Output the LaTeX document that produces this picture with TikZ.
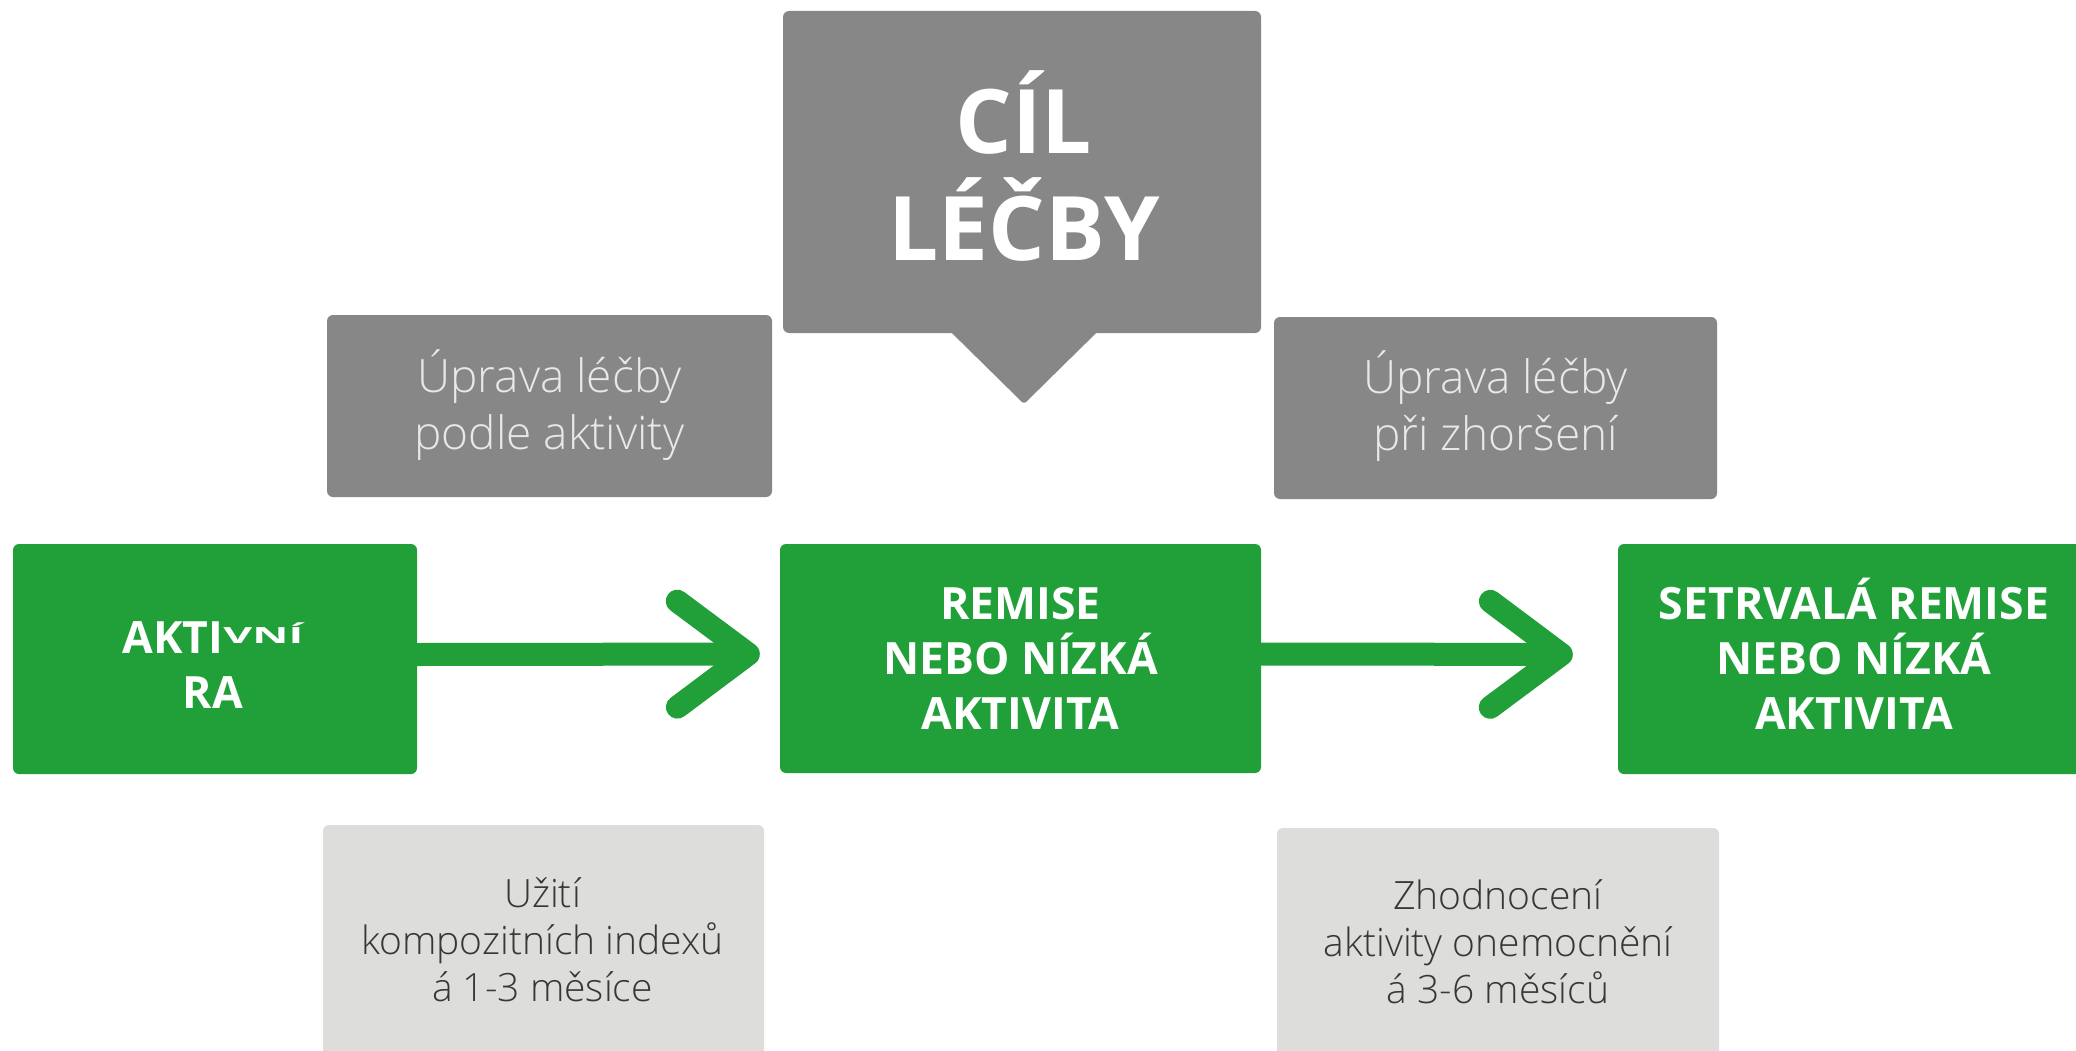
\documentclass[tikz,border=0pt]{standalone}
\usepackage{fontspec}
\setmainfont{Open Sans}
\newfontfamily\osl{Open Sans Light}
\usetikzlibrary{arrows.meta}
\definecolor{rgreen}{RGB}{33,160,57}
\definecolor{dgray}{RGB}{135,135,135}
\definecolor{lgray}{RGB}{221,221,220}
\definecolor{utext}{RGB}{232,232,232}
\definecolor{btext}{RGB}{55,55,55}
\newcommand\mytop{\rule{0pt}{1em}}
\newcommand\mybot{\rule[-0.3em]{0pt}{0.3em}}
\begin{document}
\begin{tikzpicture}[x=1pt,y=-1pt,
  box/.style={rectangle, rounded corners=6pt, inner sep=0pt, draw=none},
  greenbox/.style={box, fill=rgreen},
  darkbox/.style={box, fill=dgray},
  lightbox/.style={box, fill=lgray},
  gtext/.style={text=white, align=center, inner sep=0pt, font=\bfseries\fontsize{44.5}{55}\selectfont},
  goaltext/.style={text=white, align=center, inner sep=0pt, font=\bfseries\fontsize{89}{107}\selectfont},
  utxt/.style={text=utext, align=center, inner sep=0pt, font=\osl\fontsize{46}{57}\selectfont},
  btxt/.style={text=btext, align=center, inner sep=0pt, font=\osl\fontsize{39}{47}\selectfont},
  conn/.style={draw=rgreen, line width=23pt, -{Straight Barb[length=71pt,width=106pt,round]}},
  patch/.style={fill=dgray, rounded corners=3pt}
]
\useasboundingbox (0,0) rectangle (2076,1051);
\fill[white] (0,0) rectangle (2076,1051);

% boxes
\node[darkbox, minimum width=478pt, minimum height=322pt] (goal) at (1022,172) {};
\coordinate (tip) at (1024,404);
\fill[patch] ([xshift=-73pt,yshift=3pt]goal.south) -- ([xshift=77pt,yshift=3pt]goal.south) -- (tip) -- cycle;

\node[darkbox, minimum width=445pt, minimum height=182pt] (up1) at (549.5,406) {};
\node[darkbox, minimum width=443pt, minimum height=182pt] (up2) at (1495.5,408) {};

\node[greenbox, minimum width=404pt, minimum height=230pt] (act) at (215,659) {};
\node[greenbox, minimum width=481pt, minimum height=229pt] (rem) at (1020.5,658.5) {};
\node[greenbox, minimum width=472pt, minimum height=230pt] (sus) at (1854,659) {};

\node[lightbox, minimum width=441pt, minimum height=245pt] (low1) at (543.5,947.5) {};
\node[lightbox, minimum width=442pt, minimum height=242pt] (low2) at (1498,949) {};

% texts
\node[goaltext] (goalt) at (1024,175.4) {\mytop CÍL\\LÉČBY\mybot};
\node[utxt] (up1t) at (549.5,404.5) {\mytop Úprava léčby\\podle aktivity\mybot};
\node[utxt] (up2t) at (1495.5,405.5) {\mytop Úprava léčby\\při zhoršení\mybot};
\node[gtext] (actt) at (213,665.25) {\mytop AKTI\raisebox{10pt}{\scalebox{1}[0.5]{VNÍ}}\\RA\mybot};
\node[gtext] (remt) at (1020.5,659) {\mytop REMISE\\NEBO NÍZKÁ\\AKTIVITA\mybot};
\node[gtext] (sust) at (1854,659) {\mytop SETRVALÁ REMISE\\NEBO NÍZKÁ\\AKTIVITA\mybot};
\node[btxt] (low1t) at (542.5,940.5) {\mytop Užití\\kompozitních indexů\\á 1-3 měsíce\mybot};
\node[btxt] (low2t) at (1498,942.5) {\mytop Zhodnocení\\aktivity onemocnění\\á 3-6 měsíců\mybot};

% connectors
\draw[conn, shorten >=20pt] ([yshift=4.5pt]act.east) -- ([yshift=4.5pt]rem.west);
\draw[conn, shorten >=45pt] ([yshift=4.5pt]rem.east) -- ([yshift=4.5pt]sus.west);
\end{tikzpicture}
\end{document}
